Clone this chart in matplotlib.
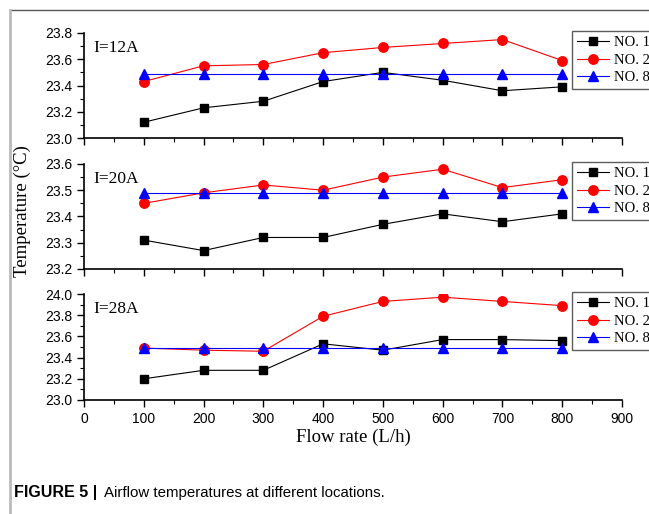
import matplotlib
matplotlib.use("Agg")
import matplotlib.pyplot as plt
from matplotlib.lines import Line2D
from matplotlib.ticker import MultipleLocator, FormatStrFormatter

# Flow rates (L/h)
flow = [100, 200, 300, 400, 500, 600, 700, 800]

# I = 12A
no1_12 = [23.12, 23.23, 23.28, 23.43, 23.50, 23.44, 23.36, 23.39]
no2_12 = [23.43, 23.55, 23.56, 23.65, 23.69, 23.72, 23.75, 23.59]
no8_12 = [23.49, 23.49, 23.49, 23.49, 23.49, 23.49, 23.49, 23.49]

# I = 20A
no1_20 = [23.31, 23.27, 23.32, 23.32, 23.37, 23.41, 23.38, 23.41]
no2_20 = [23.45, 23.49, 23.52, 23.50, 23.55, 23.58, 23.51, 23.54]
no8_20 = [23.49, 23.49, 23.49, 23.49, 23.49, 23.49, 23.49, 23.49]

# I = 28A
no1_28 = [23.20, 23.28, 23.28, 23.53, 23.47, 23.57, 23.57, 23.56]
no2_28 = [23.49, 23.47, 23.46, 23.79, 23.93, 23.97, 23.93, 23.89]
no8_28 = [23.49, 23.49, 23.49, 23.49, 23.49, 23.49, 23.49, 23.49]

currents = ["I=12A", "I=20A", "I=28A"]
series = [
    (no1_12, no2_12, no8_12),
    (no1_20, no2_20, no8_20),
    (no1_28, no2_28, no8_28),
]
ylims = [(23.0, 23.8), (23.2, 23.6), (23.0, 24.0)]
ymajor = [0.2, 0.1, 0.2]
yminor = [0.1, 0.05, 0.1]

serif = "Liberation Serif"
sans = "Liberation Sans"

fig = plt.figure(figsize=(6.49, 5.14), dpi=100)

# axes boxes in figure fraction (left, bottom, width, height)
boxes = [
    (0.1294, 0.7315, 0.829, 0.2043),
    (0.1294, 0.4767, 0.829, 0.2043),
    (0.1294, 0.2218, 0.829, 0.2062),
]

for k in range(3):
    ax = fig.add_axes(boxes[k])
    n1, n2, n8 = series[k]
    ax.plot(flow, n1, color="black", marker="s", markersize=6.3, linewidth=0.8, label="NO. 1")
    ax.plot(flow, n2, color="red", marker="o", markersize=6.8, linewidth=0.8, label="NO. 2")
    ax.plot(flow, n8, color="blue", marker="^", markersize=7.3, linewidth=0.8, label="NO. 8")

    ax.set_xlim(0, 900)
    ax.set_ylim(*ylims[k])
    ax.xaxis.set_major_locator(MultipleLocator(100))
    ax.xaxis.set_minor_locator(MultipleLocator(50))
    ax.yaxis.set_major_locator(MultipleLocator(ymajor[k]))
    ax.yaxis.set_minor_locator(MultipleLocator(yminor[k]))
    ax.yaxis.set_major_formatter(FormatStrFormatter("%.1f"))

    ax.spines["top"].set_visible(False)
    ax.spines["right"].set_visible(False)
    for s in ["left", "bottom"]:
        ax.spines[s].set_linewidth(1.2)
    ax.tick_params(which="major", direction="out", length=5, width=1.0, labelsize=10)
    ax.tick_params(which="minor", direction="out", length=3, width=0.8)
    for lab in ax.get_yticklabels() + ax.get_xticklabels():
        lab.set_fontfamily(sans)
    if k < 2:
        ax.tick_params(axis="x", labelbottom=False)

    ax.text(0.018, 0.93, currents[k], transform=ax.transAxes, fontsize=12.5,
            fontfamily=serif, va="top", ha="left")

    # legend box runs past the right edge, as in the original crop
    leg = ax.legend(loc="upper left", bbox_to_anchor=(0.907, 1.02), borderaxespad=0,
                    frameon=True, fancybox=False, handlelength=2.2,
                    labelspacing=0.3, borderpad=0.35, handletextpad=0.35,
                    prop={"family": serif, "size": 10.5})
    leg.get_frame().set_edgecolor("#333333")
    leg.get_frame().set_linewidth(1.0)

    if k == 2:
        ax.set_xlabel("Flow rate (L/h)", fontfamily=serif, fontsize=13.5, labelpad=2)

fig.text(0.034, 0.59, "Temperature (\u00b0C)", rotation=90, fontfamily=serif,
         fontsize=13.5, ha="center", va="center")

# page frame lines
fig.add_artist(Line2D([10 / 649, 1], [1 - 10 / 514, 1 - 10 / 514],
                      transform=fig.transFigure, color="#555555", linewidth=1.0))
fig.add_artist(Line2D([10 / 649, 10 / 649], [0, 1 - 10 / 514],
                      transform=fig.transFigure, color="#bbbbbb", linewidth=2.0))

fig.text(14 / 649, 1 - 493 / 514, "FIGURE 5 |", fontfamily=sans, fontweight="bold",
         fontsize=11.5, va="center", ha="left")
fig.text(104 / 649, 1 - 493 / 514, "Airflow temperatures at different locations.",
         fontfamily=sans, fontsize=10.8, va="center", ha="left")

fig.savefig("out.png", dpi=100)
